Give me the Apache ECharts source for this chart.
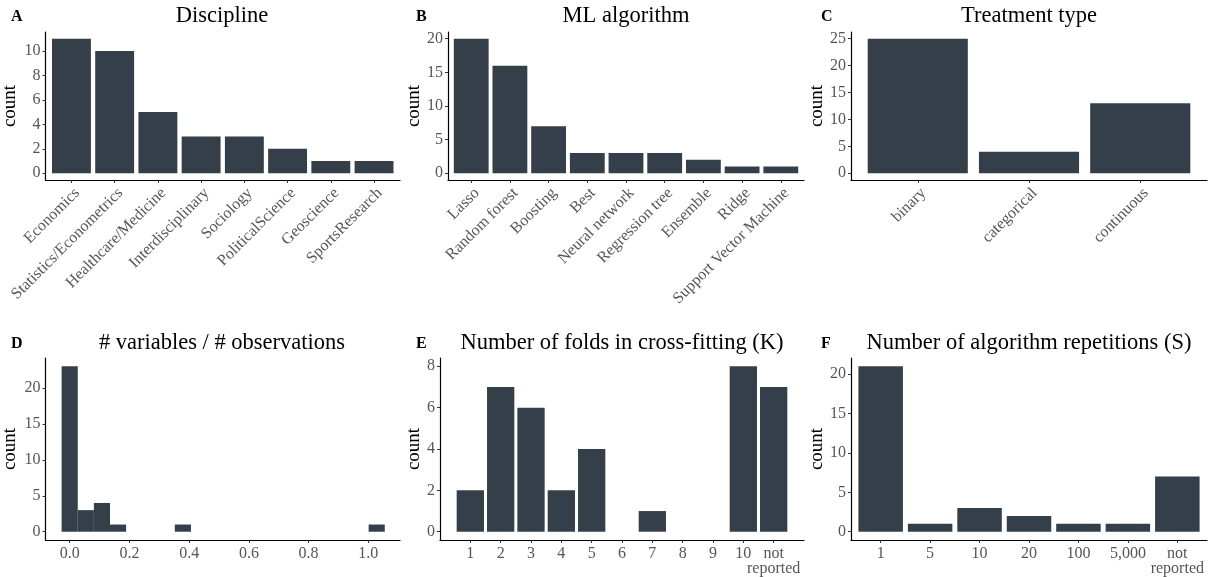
<!DOCTYPE html>
<html>
<head>
<meta charset="utf-8">
<script src="https://cdn.jsdelivr.net/npm/echarts@6/dist/echarts.min.js"></script>
<style>
html,body{margin:0;padding:0;background:#fff;}
#chart{width:1215px;height:577px;}
</style>
</head>
<body>
<div id="chart"></div>
<script>
// ---------------- data ----------------
const disciplineCats = ['Economics','Statistics/Econometrics','Healthcare/Medicine','Interdisciplinary','Sociology','PoliticalScience','Geoscience','SportsResearch'];
const disciplineCounts = [11,10,5,3,3,2,1,1];
const disciplineYTicks = [0,2,4,6,8,10];

const algoCats = ['Lasso','Random forest','Boosting','Best','Neural network','Regression tree','Ensemble','Ridge','Support Vector Machine'];
const algoCounts = [20,16,7,3,3,3,2,1,1];
const algoYTicks = [0,5,10,15,20];

const treatCats = ['binary','categorical','continuous'];
const treatCounts = [25,4,13];
const treatYTicks = [0,5,10,15,20,25];

const ratioBinCenters = [0, 0.054, 0.108, 0.162, 0.379, 1.028];
const ratioCounts = [23,3,4,1,1,1];
const ratioXTicks = [0,0.2,0.4,0.6,0.8,1.0];
const ratioXRange = [-0.081, 1.106];
const ratioYTicks = [0,5,10,15,20];

const foldCats = ['1','2','3','4','5','6','7','8','9','10','not\nreported'];
const foldCounts = [2,7,6,2,4,0,1,0,0,8,7];
const foldYTicks = [0,2,4,6,8];

const repCats = ['1','5','10','20','100','5,000','not\nreported'];
const repCounts = [21,1,3,2,1,1,7];
const repYTicks = [0,5,10,15,20];

const titles = ['Discipline','ML algorithm','Treatment type','# variables / # observations','Number of folds in cross-fitting (K)','Number of algorithm repetitions (S)'];
const letters = ['A','B','C','D','E','F'];

// ---------------- layout / style ----------------
const SERIF = '"Liberation Serif", "DejaVu Serif", serif';
const BAR = '#343f4a';
const GREY = '#555555';
const TICK_FS = 16;

const panels = [
  {px:0,   left:44,  top:32,  width:356, height:148, titleY:16},
  {px:405, left:448, top:32,  width:356, height:148, titleY:16},
  {px:810, left:851, top:32,  width:356, height:148, titleY:16},
  {px:0,   left:44,  top:358, width:356, height:182, titleY:343},
  {px:405, left:440, top:358, width:364, height:182, titleY:343},
  {px:810, left:851, top:358, width:356, height:182, titleY:343}
];

function catPairs(counts){ return counts.map((v,i)=>[i+1, v]); }
function pairs(xs, counts){ return xs.map((x,i)=>[x, counts[i]]); }
function idxs(n){ const a=[]; for(let i=1;i<=n;i++) a.push(i); return a; }

const panelData = [
  {data: catPairs(disciplineCounts), cats: disciplineCats, xr:[0.4, disciplineCats.length+0.6], xt: idxs(disciplineCats.length), yt: disciplineYTicks, ymax: Math.max(...disciplineCounts), rotate:true, bw:'90%'},
  {data: catPairs(algoCounts), cats: algoCats, xr:[0.4, algoCats.length+0.6], xt: idxs(algoCats.length), yt: algoYTicks, ymax: Math.max(...algoCounts), rotate:true, bw:'90%'},
  {data: catPairs(treatCounts), cats: treatCats, xr:[0.4, treatCats.length+0.6], xt: idxs(treatCats.length), yt: treatYTicks, ymax: Math.max(...treatCounts), rotate:true, bw:'90%'},
  {data: pairs(ratioBinCenters, ratioCounts), cats: null, xr: ratioXRange, xt: ratioXTicks, yt: ratioYTicks, ymax: Math.max(...ratioCounts), rotate:false, bw:'100%'},
  {data: catPairs(foldCounts), cats: foldCats, xr:[0, foldCats.length+1], xt: idxs(foldCats.length), yt: foldYTicks, ymax: Math.max(...foldCounts), rotate:false, bw:'90%'},
  {data: catPairs(repCounts), cats: repCats, xr:[0.4, repCats.length+0.6], xt: idxs(repCats.length), yt: repYTicks, ymax: Math.max(...repCounts), rotate:false, bw:'90%'}
];

const grids=[], xAxes=[], yAxes=[], series=[], graphics=[];
const extraGrids=[], extraX=[], extraY=[];
panelData.forEach((pd, i) => {
  const p = panels[i];
  grids.push({left:p.left, top:p.top, width:p.width, height:p.height, containLabel:false});
  const cats = pd.cats;
  const firstLine = v => { const s = cats[Math.round(v)-1]; return s ? s.split('\n')[0] : ''; };
  const xLabel = {
    customValues: pd.xt,
    color: GREY, fontFamily: SERIF, fontSize: TICK_FS,
    formatter: cats ? firstLine : (v => v.toFixed(1)),
    showMinLabel: true, showMaxLabel: true, hideOverlap: false
  };
  if (pd.rotate) {
    Object.assign(xLabel, {rotate:45, align:'right', verticalAlign:'top', margin:5});
  } else {
    Object.assign(xLabel, {margin:6});
  }
  xAxes.push({
    type:'value', gridIndex:i, position:'bottom', min:pd.xr[0], max:pd.xr[1],
    axisLine:{show:true, onZero:false, lineStyle:{color:'#000', width:1.2}},
    axisTick:{show:true, customValues: pd.xt, length:3, lineStyle:{color:'#333'}},
    axisLabel: xLabel,
    splitLine:{show:false}
  });
  yAxes.push({
    type:'value', gridIndex:i, min:-0.05*pd.ymax, max:1.05*pd.ymax,
    name:'count', nameLocation:'middle', nameRotate:90,
    nameGap: p.left - (p.px + 18.5),
    nameTextStyle:{color:'#000', fontFamily:SERIF, fontSize:19},
    axisLine:{show:true, onZero:false, lineStyle:{color:'#000', width:1.2}},
    axisTick:{show:true, customValues: pd.yt, length:3, lineStyle:{color:'#333'}},
    axisLabel:{customValues: pd.yt, color:GREY, fontFamily:SERIF, fontSize:TICK_FS, margin:5, showMinLabel:true, showMaxLabel:true},
    splitLine:{show:false}
  });
  series.push({
    type:'bar', xAxisIndex:i, yAxisIndex:i, data: pd.data,
    barWidth: pd.bw, itemStyle:{color:BAR}, silent:true, animation:false
  });
  // second label line for two-line category labels ("not" / "reported"), drawn by an overlay grid
  if (cats && !pd.rotate) {
    const twoLine = pd.xt.filter(v => (cats[v-1] || '').indexOf('\n') >= 0);
    if (twoLine.length) {
      extraGrids.push({left:p.left, top:p.top, width:p.width, height:p.height, containLabel:false, show:false});
      extraX.push({
        type:'value', position:'bottom', min:pd.xr[0], max:pd.xr[1],
        axisLine:{show:false}, axisTick:{show:false}, splitLine:{show:false},
        axisLabel:{customValues: twoLine, color: GREY, fontFamily: SERIF, fontSize: TICK_FS,
          margin: 6 + 17, showMinLabel:true, showMaxLabel:true,
          formatter: v => (cats[Math.round(v)-1] || '').split('\n').slice(1).join('\n')}
      });
      extraY.push({type:'value', min:0, max:1, show:false});
    }
  }
  graphics.push({
    type:'text', x: p.left + p.width/2, y: p.titleY,
    style:{text: titles[i], fill:'#000', font:'22.5px ' + SERIF, align:'center', verticalAlign:'middle'}
  });
  graphics.push({
    type:'text', x: p.px + 11, y: p.titleY + 1,
    style:{text: letters[i], fill:'#000', font:'bold 16px ' + SERIF, align:'left', verticalAlign:'middle'}
  });
});

// attach overlay axes to their overlay grids
const allGrids = grids.concat(extraGrids);
extraX.forEach((ax, k) => { ax.gridIndex = grids.length + k; });
extraY.forEach((ax, k) => { ax.gridIndex = grids.length + k; });

const chart = echarts.init(document.getElementById('chart'), null, {renderer:'canvas'});
chart.setOption({
  animation:false,
  backgroundColor:'#fff',
  grid: allGrids, xAxis: xAxes.concat(extraX), yAxis: yAxes.concat(extraY), series: series,
  graphic: graphics
});
</script>
</body>
</html>
